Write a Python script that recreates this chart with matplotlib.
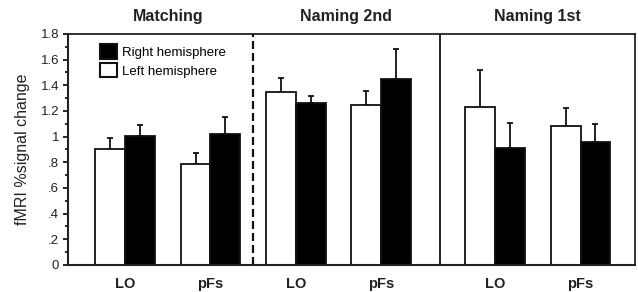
import matplotlib
matplotlib.use("Agg")
import matplotlib.pyplot as plt
import numpy as np
from matplotlib.patches import Patch

plt.rcParams['font.family'] = ['Liberation Sans', 'DejaVu Sans']

panels = ["Matching", "Naming 2nd", "Naming 1st"]
regions = ["LO", "pFs"]
left_vals = [0.90, 0.79, 1.35, 1.25, 1.23, 1.085]
left_err = [0.09, 0.085, 0.105, 0.105, 0.29, 0.14]
right_vals = [1.005, 1.02, 1.26, 1.45, 0.915, 0.955]
right_err = [0.085, 0.13, 0.06, 0.23, 0.19, 0.14]
yticks = [0, 0.2, 0.4, 0.6, 0.8, 1.0, 1.2, 1.4, 1.6, 1.8]
ytick_labels = ["0", ".2", ".4", ".6", ".8", "1", "1.2", "1.4", "1.6", "1.8"]

# layout: group centers
panel_offsets = [0.0, 2.0, 4.33]
centers = np.array([off + i for off in panel_offsets for i in range(len(regions))])
width = 0.35

fig = plt.figure(figsize=(6.38, 2.92), dpi=100)
ax = fig.add_axes([0.1066, 0.0925, 0.995 - 0.1066, 0.8836 - 0.0925])

lw = 1.3
ax.bar(centers - width / 2, left_vals, width, color="white", edgecolor="#111111", linewidth=lw, zorder=2)
ax.bar(centers + width / 2, right_vals, width, color="#000000", edgecolor="#111111", linewidth=lw, zorder=2)
zeros = np.zeros(len(centers))
ax.errorbar(centers - width / 2, left_vals, yerr=[zeros, left_err], fmt="none", ecolor="#111111",
            elinewidth=1.3, capsize=2, capthick=1.3, zorder=1)
ax.errorbar(centers + width / 2, right_vals, yerr=[zeros, right_err], fmt="none", ecolor="#111111",
            elinewidth=1.3, capsize=2, capthick=1.3, zorder=1)

ax.set_xlim(-0.667, 5.965)
ax.set_ylim(0, 1.8)

sep1 = 1.5
sep2 = 3.68
ax.axvline(sep1, color="#111111", linewidth=1.6, linestyle=(0, (3.6, 1.8)), zorder=3)
ax.axvline(sep2, color="#111111", linewidth=1.3, zorder=3)

for s in ax.spines.values():
    s.set_linewidth(1.3)
    s.set_color("#222222")
ax.spines["left"].set_linewidth(1.5)
ax.spines["bottom"].set_linewidth(1.5)

ax.set_yticks(yticks)
ax.set_yticklabels(ytick_labels, fontsize=9.5, color="#222222")
ax.set_yticks(np.arange(0.1, 1.8, 0.2), minor=True)
ax.tick_params(axis="y", which="major", length=3.5, width=1.2, pad=3, direction="out")
ax.tick_params(axis="y", which="minor", length=2.5, width=1.2, direction="out")
ax.set_xticks(centers)
ax.set_xticklabels(regions * len(panels), fontsize=10.5, fontweight="bold", color="#222222")
ax.tick_params(axis="x", length=0, pad=9)

ax.set_ylabel("fMRI %signal change", fontsize=11.5, color="#222222", va="center")
ax.yaxis.set_label_coords(-0.08, 0.5)

bounds = [ax.get_xlim()[0], sep1, sep2, ax.get_xlim()[1]]
for i, name in enumerate(panels):
    xc = (bounds[i] + bounds[i + 1]) / 2
    if i == 0:
        xc += 0.09
    ax.text(xc, 1.074, name, transform=ax.get_xaxis_transform(), ha="center", va="center",
            fontsize=11.5, fontweight="bold", color="#222222")

handles = [Patch(facecolor="black", edgecolor="#111111", linewidth=1.5, label="Right hemisphere"),
           Patch(facecolor="white", edgecolor="#111111", linewidth=1.5, label="Left hemisphere")]
ax.legend(handles=handles, loc="upper left", bbox_to_anchor=(0.057, 0.955), frameon=False,
          fontsize=9.5, handlelength=1.3, handleheight=1.3, labelspacing=0.3, borderpad=0,
          borderaxespad=0, handletextpad=0.35)

fig.savefig("out.png", dpi=100)
